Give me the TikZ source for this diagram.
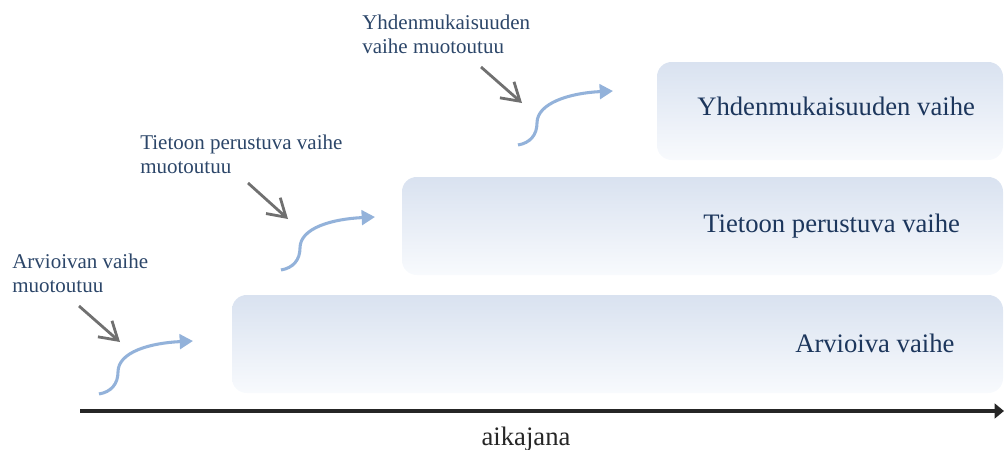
\documentclass[tikz,border=0pt]{standalone}
\usepackage{fontspec}
\setmainfont{Liberation Serif}
\usetikzlibrary{arrows.meta}
\definecolor{boxtop}{RGB}{217,226,240}
\definecolor{boxbot}{RGB}{248,250,253}
\definecolor{navy}{RGB}{28,54,92}
\definecolor{labblue}{RGB}{44,70,105}
\definecolor{flowblue}{RGB}{147,178,218}
\definecolor{pointergray}{RGB}{112,112,112}
\definecolor{axisgray}{RGB}{38,38,38}
\begin{document}
\begin{tikzpicture}[x=0.75pt,y=-0.75pt,
  phase/.style={rounded corners=11pt, top color=boxtop, bottom color=boxbot, draw=none, inner sep=0pt, minimum height=73.5pt},
  phasetext/.style={font=\fontsize{20}{24}\selectfont, text=navy, anchor=base west, inner sep=0pt},
  note/.style={font=\fontsize{15.75}{18}\selectfont, text=labblue, align=left, anchor=base west, inner sep=0pt},
  pointer/.style={draw=pointergray, line width=2.1pt, -{Straight Barb[length=13pt,width=16pt,line width=2.1pt]}},
  flowarrow/.style={draw=flowblue, line width=2.3pt, -{Triangle[length=10pt,width=11pt]}},
  axisline/.style={draw=axisgray, line width=2.4pt, -{Triangle[length=7pt,width=11pt]}}
]
\useasboundingbox (0,0) rectangle (1004,450);

% phase boxes
\node[phase, minimum width=578.25pt] (b1) at (617.5,344) {};
\node[phase, minimum width=450.75pt] (b2) at (702.5,226) {};
\node[phase, minimum width=259.5pt] (b3) at (830,111) {};

\node[phasetext] (t1) at (795,352) {Arvioiva vaihe};
\node[phasetext] (t2) at (703,232) {Tietoon perustuva vaihe};
\node[phasetext] (t3) at (697,115) {Yhdenmukaisuuden vaihe};

% notes (anchor = baseline of the last line)
\node[note] (n1) at (12,292) {Arvioivan vaihe\\muotoutuu};
\node[note] (n2) at (140,173) {Tietoon perustuva vaihe\\muotoutuu};
\node[note] (n3) at (362,53) {Yhdenmukaisuuden\\vaihe muotoutuu};

% gray pointers
\coordinate (g1s) at (79,306); \coordinate (g1t) at (120,342);
\coordinate (g2s) at (248,183); \coordinate (g2t) at (288,219);
\coordinate (g3s) at (481,67);  \coordinate (g3t) at (522,103);
\draw[pointer] (g1s) -- (g1t);
\draw[pointer] (g2s) -- (g2t);
\draw[pointer] (g3s) -- (g3t);

% blue flow arrows
\coordinate (f1s) at (99,394);  \coordinate (f1t) at (193,341);
\coordinate (f2s) at (281,270); \coordinate (f2t) at (375,217);
\coordinate (f3s) at (518,145); \coordinate (f3t) at (613,91);
\draw[flowarrow] (f1s) .. controls +(12,-2) and +(0,12) .. ++(19,-22) .. controls +(0,-20) and +(-43,2) .. (f1t);
\draw[flowarrow] (f2s) .. controls +(12,-2) and +(0,12) .. ++(19,-22) .. controls +(0,-20) and +(-43,2) .. (f2t);
\draw[flowarrow] (f3s) .. controls +(12,-2) and +(0,12) .. ++(19,-22) .. controls +(0,-20) and +(-43,2) .. (f3t);

% time axis
\coordinate (ax0) at (80,411);
\coordinate (ax1) at (1004,411);
\draw[axisline] (ax0) -- (ax1);
\node[font=\fontsize{20}{24}\selectfont, text=axisgray, anchor=base, inner sep=0pt] (axl) at (526,445) {aikajana};
\end{tikzpicture}
\end{document}
